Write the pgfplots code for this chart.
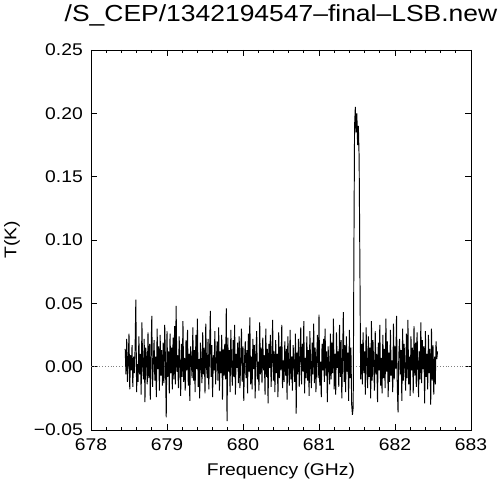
\documentclass[border=0pt]{standalone}
\usepackage{fontspec}
\setmainfont[FakeStretch=1.14]{Liberation Sans}
\usepackage{pgfplots}
\pgfplotsset{compat=1.18}

\begin{document}
\begin{tikzpicture}
\begin{axis}[
    at={(0,0)}, anchor=south west,
    scale only axis,
    width=380bp, height=380bp,
    xmin=678, xmax=683,
    ymin=-0.05, ymax=0.25,
    xtick={678,679,680,681,682,683},
    xticklabels={678,679,680,681,682,683},
    ytick={-0.05,0,0.05,0.1,0.15,0.2,0.25},
    yticklabels={−0.05,0.00,0.05,0.10,0.15,0.20,0.25},
    minor x tick num=4,
    tick align=inside,
    major tick length=6bp,
    minor tick length=3bp,
    every tick/.style={black, line width=0.7bp},
    axis line style={black, line width=0.9bp},
    tick label style={font=\fontsize{17}{19}\selectfont, black},
    xticklabel style={anchor=north, inner sep=0pt, yshift=-8bp},
    yticklabel style={anchor=east, inner sep=0pt, xshift=-8bp},
    title={/S\_CEP/1342194547–final–LSB.new},
    title style={at={(0.5,1)}, anchor=base, inner sep=0pt, yshift=23bp,
                 font=\fontsize{23.3}{26}\selectfont},
    xlabel={Frequency (GHz)},
    ylabel={T(K)},
    every axis x label/.style={at={(axis description cs:0.5,0)}, anchor=base,
                               inner sep=0pt, yshift=-45bp,
                               font=\fontsize{17}{19}\selectfont},
    every axis y label/.style={at={(axis description cs:-0.2079,0.5)}, rotate=90,
                               anchor=center, inner sep=0pt,
                               font=\fontsize{17}{19}\selectfont},
    clip=true,
  ]
% zero line
\addplot[gray, dotted, line width=0.8bp] coordinates {(678,0) (683,0)};
% spectrum
\addplot[black, line width=0.95bp, mark=none, line join=miter, miter limit=2] coordinates {
(678.45,0.014)(678.46,-0.006)(678.47,0.022)(678.48,-0.012)(678.49,0.005)(678.50,0.026)(678.51,-0.018)(678.52,0.009)(678.53,-0.003)(678.54,0.017)
(678.55,-0.016)(678.56,0.008)(678.57,-0.005)(678.58,0.014)(678.59,0.053)(678.60,-0.020)(678.61,0.002)(678.62,-0.012)(678.63,0.024)(678.64,-0.006)
(678.65,0.010)(678.66,-0.022)(678.67,0.035)(678.68,0.000)(678.69,-0.010)(678.70,0.022)(678.71,-0.028)(678.72,0.015)(678.73,0.006)(678.74,-0.014)
(678.75,0.027)(678.76,-0.009)(678.77,0.018)(678.78,-0.026)(678.79,0.011)(678.80,0.040)(678.81,-0.016)(678.82,0.003)(678.83,0.021)(678.84,-0.011)
(678.85,0.008)(678.86,-0.024)(678.87,0.030)(678.88,-0.002)(678.89,0.016)(678.90,-0.019)(678.91,0.025)(678.92,-0.007)(678.93,0.013)(678.94,-0.015)
(678.95,0.019)(678.96,-0.013)(678.97,0.033)(678.98,0.004)(678.99,-0.040)(679.00,0.028)(679.01,-0.008)(679.02,0.012)(679.03,-0.021)(679.04,0.026)
(679.05,-0.005)(679.06,0.015)(679.07,-0.018)(679.08,0.023)(679.09,-0.010)(679.10,0.032)(679.11,-0.014)(679.12,0.048)(679.13,-0.004)(679.14,0.009)
(679.15,-0.017)(679.16,0.024)(679.17,0.001)(679.18,-0.023)(679.19,0.018)(679.20,-0.008)(679.21,0.036)(679.22,-0.012)(679.23,0.007)(679.24,-0.019)
(679.25,0.021)(679.26,-0.003)(679.27,0.029)(679.28,-0.015)(679.29,0.010)(679.30,-0.027)(679.31,0.016)(679.32,0.004)(679.33,-0.009)(679.34,0.031)
(679.35,-0.011)(679.36,0.013)(679.37,-0.020)(679.38,0.025)(679.39,-0.002)(679.40,0.038)(679.41,-0.016)(679.42,0.006)(679.43,-0.025)(679.44,0.019)
(679.45,0.003)(679.46,-0.013)(679.47,0.027)(679.48,-0.006)(679.49,0.015)(679.50,-0.021)(679.51,0.034)(679.52,0.000)(679.53,-0.009)(679.54,0.022)
(679.55,-0.018)(679.56,0.011)(679.57,0.044)(679.58,-0.008)(679.59,0.017)(679.60,-0.024)(679.61,0.009)(679.62,-0.003)(679.63,0.028)(679.64,-0.014)
(679.65,0.006)(679.66,0.020)(679.67,-0.011)(679.68,0.031)(679.69,-0.019)(679.70,0.012)(679.71,-0.005)(679.72,0.025)(679.73,-0.026)(679.74,0.014)
(679.75,-0.007)(679.76,0.018)(679.77,-0.010)(679.78,0.046)(679.79,-0.043)(679.80,0.023)(679.81,-0.004)(679.82,0.013)(679.83,-0.020)(679.84,0.029)
(679.85,0.002)(679.86,-0.015)(679.87,0.021)(679.88,-0.008)(679.89,0.033)(679.90,-0.022)(679.91,0.010)(679.92,-0.001)(679.93,0.019)(679.94,-0.013)
(679.95,0.024)(679.96,-0.017)(679.97,0.007)(679.98,0.030)(679.99,-0.012)(680.00,0.016)(680.01,-0.027)(680.02,0.005)(680.03,0.020)(680.04,-0.009)
(680.05,0.013)(680.06,-0.021)(680.07,0.026)(680.08,-0.004)(680.09,0.039)(680.10,-0.014)(680.11,0.008)(680.12,-0.018)(680.13,0.022)(680.14,-0.002)
(680.15,0.017)(680.16,-0.025)(680.17,0.011)(680.18,0.028)(680.19,-0.010)(680.20,0.004)(680.21,-0.019)(680.22,0.035)(680.23,-0.006)(680.24,0.015)
(680.25,-0.013)(680.26,0.023)(680.27,-0.003)(680.28,0.009)(680.29,-0.022)(680.30,0.030)(680.31,-0.008)(680.32,0.014)(680.33,-0.029)(680.34,0.018)
(680.35,-0.001)(680.36,0.025)(680.37,-0.016)(680.38,0.006)(680.39,0.037)(680.40,-0.011)(680.41,0.012)(680.42,-0.020)(680.43,0.021)(680.44,-0.005)
(680.45,0.010)(680.46,-0.024)(680.47,0.027)(680.48,-0.009)(680.49,0.016)(680.50,-0.003)(680.51,0.033)(680.52,-0.017)(680.53,0.005)(680.54,-0.012)
(680.55,0.020)(680.56,-0.007)(680.57,0.014)(680.58,-0.026)(680.59,0.024)(680.60,0.001)(680.61,-0.015)(680.62,0.029)(680.63,-0.010)(680.64,0.008)
(680.65,-0.019)(680.66,0.017)(680.67,0.003)(680.68,-0.012)(680.69,0.026)(680.70,-0.037)(680.71,0.011)(680.72,-0.006)(680.73,0.022)(680.74,-0.016)
(680.75,0.009)(680.76,0.031)(680.77,-0.014)(680.78,0.018)(680.79,-0.004)(680.80,0.036)(680.81,-0.021)(680.82,0.007)(680.83,-0.009)(680.84,0.024)
(680.85,-0.011)(680.86,0.013)(680.87,-0.023)(680.88,0.028)(680.89,0.000)(680.90,-0.017)(680.91,0.019)(680.92,-0.006)(680.93,0.034)(680.94,-0.013)
(680.95,0.015)(680.96,-0.020)(680.97,0.008)(680.98,0.025)(680.99,-0.009)(681.00,0.041)(681.01,-0.015)(681.02,0.004)(681.03,-0.024)(681.04,0.018)
(681.05,-0.003)(681.06,0.022)(681.07,-0.012)(681.08,0.030)(681.09,-0.007)(681.10,0.012)(681.11,-0.028)(681.12,0.016)(681.13,0.002)(681.14,-0.014)
(681.15,0.026)(681.16,-0.010)(681.17,0.019)(681.18,-0.005)(681.19,0.038)(681.20,-0.018)(681.21,0.010)(681.22,-0.022)(681.23,0.027)(681.24,-0.001)
(681.25,0.012)(681.26,-0.016)(681.27,0.033)(681.28,-0.008)(681.29,0.021)(681.30,-0.025)(681.31,0.006)(681.32,0.043)(681.33,-0.012)(681.34,0.017)
(681.35,-0.020)(681.36,0.024)(681.37,-0.004)(681.38,0.011)(681.39,-0.027)(681.40,0.029)(681.41,-0.009)(681.42,0.015)(681.43,-0.030)(681.44,-0.038)
(681.450,-0.032)(681.460,0.100)(681.468,0.190)(681.478,0.205)(681.488,0.185)(681.498,0.200)(681.508,0.175)(681.518,0.190)(681.528,0.165)(681.538,0.080)(681.548,-0.010)
(681.56,0.018)(681.57,-0.014)(681.58,0.027)(681.59,-0.005)(681.60,0.012)(681.61,-0.022)(681.62,0.031)(681.63,0.003)(681.64,-0.017)(681.65,0.024)
(681.66,-0.008)(681.67,0.015)(681.68,-0.025)(681.69,0.036)(681.70,-0.011)(681.71,0.021)(681.72,0.000)(681.73,-0.019)(681.74,0.028)(681.75,-0.006)
(681.76,0.010)(681.77,-0.028)(681.78,0.019)(681.79,-0.003)(681.80,0.033)(681.81,-0.015)(681.82,0.007)(681.83,-0.021)(681.84,0.025)(681.85,-0.009)
(681.86,0.014)(681.87,-0.017)(681.88,0.038)(681.89,-0.004)(681.90,0.020)(681.91,-0.024)(681.92,0.011)(681.93,-0.012)(681.94,0.029)(681.95,-0.007)
(681.96,0.005)(681.97,-0.020)(681.98,0.034)(681.99,-0.010)(682.00,0.016)(682.01,-0.002)(682.02,0.040)(682.03,-0.016)(682.04,-0.036)(682.05,0.009)
(682.06,0.022)(682.07,-0.006)(682.08,0.013)(682.09,-0.027)(682.10,0.030)(682.11,-0.011)(682.12,0.018)(682.13,0.001)(682.14,-0.019)(682.15,0.026)
(682.16,-0.009)(682.17,0.037)(682.18,-0.014)(682.19,0.008)(682.20,-0.023)(682.21,0.024)(682.22,-0.003)(682.23,0.015)(682.24,-0.021)(682.25,0.032)
(682.26,-0.007)(682.27,0.019)(682.28,-0.016)(682.29,0.027)(682.30,0.004)(682.31,-0.024)(682.32,0.012)(682.33,-0.010)(682.34,0.035)(682.35,-0.013)
(682.36,0.021)(682.37,-0.002)(682.38,0.016)(682.39,-0.029)(682.40,0.028)(682.41,-0.008)(682.42,0.010)(682.43,-0.018)(682.44,0.025)(682.45,-0.005)
(682.46,0.014)(682.47,-0.030)(682.48,0.030)(682.49,-0.011)(682.50,0.017)(682.51,-0.022)(682.52,0.008)(682.53,-0.014)(682.54,0.020)(682.55,0.006)
(682.56,0.012)
};
\end{axis}
\pgfresetboundingbox
\useasboundingbox (-91bp,-55bp) rectangle (409bp,430bp);
\end{tikzpicture}
\end{document}
